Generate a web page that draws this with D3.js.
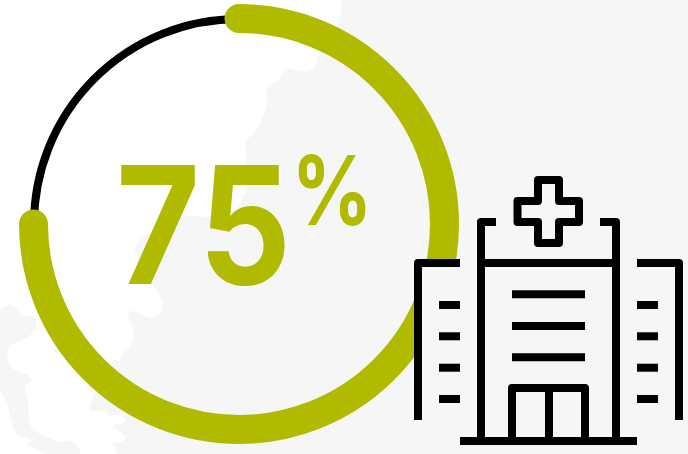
<!DOCTYPE html>
<html>
<head>
<meta charset="utf-8">
<script src="https://cdnjs.cloudflare.com/ajax/libs/d3/7.8.5/d3.min.js"></script>
<style>
html,body{margin:0;padding:0;background:#fff}
svg{display:block}
text{font-family:Inter,"Open Sans",sans-serif}
</style>
</head>
<body>
<svg id="chart" width="688" height="454"></svg>
<script>
// Share of occupied hospital capacity, drawn as a ring
const categories = ["Value", "Remainder"];
const seriesValues = [75, 25];
const valueLabel = "75";
const unitLabel = "%";

const GREEN = "#b0bb00", INK = "#000", LAND = "#f6f6f6";
const W = 688, H = 454;
const cx = 239, cy = 224;

const svg = d3.select("#chart").attr("viewBox", [0, 0, W, H]);

// Background map: land masses in pale grey on white
const coastMain = [[341,0],[340,17],[332,38],[318,55],[316,64],[310,71],[300,71],[288,68],[283,72],[279,80],[268,87],[266,93],[267,105],[258,127],[252,135],[247,140],[246,160],[246,190],[236,208],[217,217],[190,216],[172,220],[150,233],[135,247],[140,262],[153,285],[162,300],[162,310],[153,318],[142,315],[132,311],[128,315],[131,324],[134,336],[130,346],[122,356],[119,361],[115,360],[110,364],[100,380],[93,397],[90,410],[105,411],[110,416],[115,415],[124,417],[125,422],[113,426],[125,436],[123,441],[112,443],[117,451],[118,454]];
const landWest = [[0,309],[10,305],[17,309],[23,315],[36,319],[35,329],[28,337],[10,346],[7,352],[10,364],[13,369],[30,377],[31,382],[25,386],[28,400],[30,424],[37,432],[47,437],[60,442],[72,441],[80,454],[47,454],[33,447],[27,446],[31,439],[18,436],[12,424],[7,404],[0,391]];
const landIslet = [[52,350],[58,348],[63,353],[56,354]];
const coastLine = d3.line().curve(d3.curveCatmullRom.alpha(0.5));
const landG = svg.append("g").attr("fill", LAND);
landG.append("path").attr("d", coastLine(coastMain) + `L${W} ${H}L${W} 0Z`);
landG.selectAll("path.coast").data([landWest, landIslet]).join("path").attr("class", "coast").attr("d", d => coastLine(d) + "Z");

// Ring: remainder as a thin dark arc, value as a thick arc with round caps
const angle = d3.scaleLinear().domain([0, d3.sum(seriesValues)]).range([-Math.PI / 2, 1.5 * Math.PI]);
const arcPath = (from, to, r) => {
  const p = d3.path();
  p.arc(0, 0, r, angle(from), angle(to));
  return p.toString();
};
const ring = svg.append("g").attr("transform", `translate(${cx},${cy})`).attr("fill", "none");
ring.append("path")
  .attr("d", arcPath(seriesValues[0], d3.sum(seriesValues), 205))
  .attr("stroke", INK).attr("stroke-width", 8);
ring.append("path")
  .attr("d", arcPath(0, seriesValues[0], 205.5))
  .attr("stroke", GREEN).attr("stroke-width", 29).attr("stroke-linecap", "round");

// Value label with a raised unit sign
const label = svg.append("text").attr("fill", GREEN).attr("font-weight", 700);
label.append("tspan").attr("x", 116).attr("y", 284).attr("font-size", 163)
  .attr("textLength", 175).attr("lengthAdjust", "spacingAndGlyphs")
  .text(valueLabel);
label.append("tspan").attr("x", 291.5).attr("y", 225).attr("font-size", 96)
  .attr("textLength", 81).attr("lengthAdjust", "spacingAndGlyphs")
  .text(unitLabel);

// Hospital icon; its wing and tower hide the ring behind them
const icon = svg.append("g");
icon.append("rect").attr("x", 418).attr("y", 263).attr("width", 63).attr("height", 178).attr("fill", LAND);

const strokes = [
  // cross
  "M538 180H559V201H579V222H559V243H538V222H517.5V201H538Z",
  // tower parapet and walls
  "M496 222H481V437", "M600 222H616V437", "M477 263H620",
  // wings
  "M460 263H418V420", "M637 263H679V420",
  // door
  "M512 437V388H585V437", "M549 388V437",
  // ground
  "M460 441H637"
];
icon.selectAll("path.outline").data(strokes).join("path").attr("class", "outline")
  .attr("d", d => d).attr("fill", "none").attr("stroke", INK).attr("stroke-width", 8).attr("stroke-linejoin", "round");

const floors = [294.3, 326, 357.3];
const wingWindows = [305, 336.3, 367.7, 399];
const bars = [
  ...floors.map(y => [512, 585, y]),
  ...wingWindows.map(y => [439, 460, y]),
  ...wingWindows.map(y => [637, 658, y])
];
icon.selectAll("line").data(bars).join("line")
  .attr("x1", d => d[0]).attr("x2", d => d[1]).attr("y1", d => d[2]).attr("y2", d => d[2])
  .attr("stroke", INK).attr("stroke-width", 8);
</script>
</body>
</html>
